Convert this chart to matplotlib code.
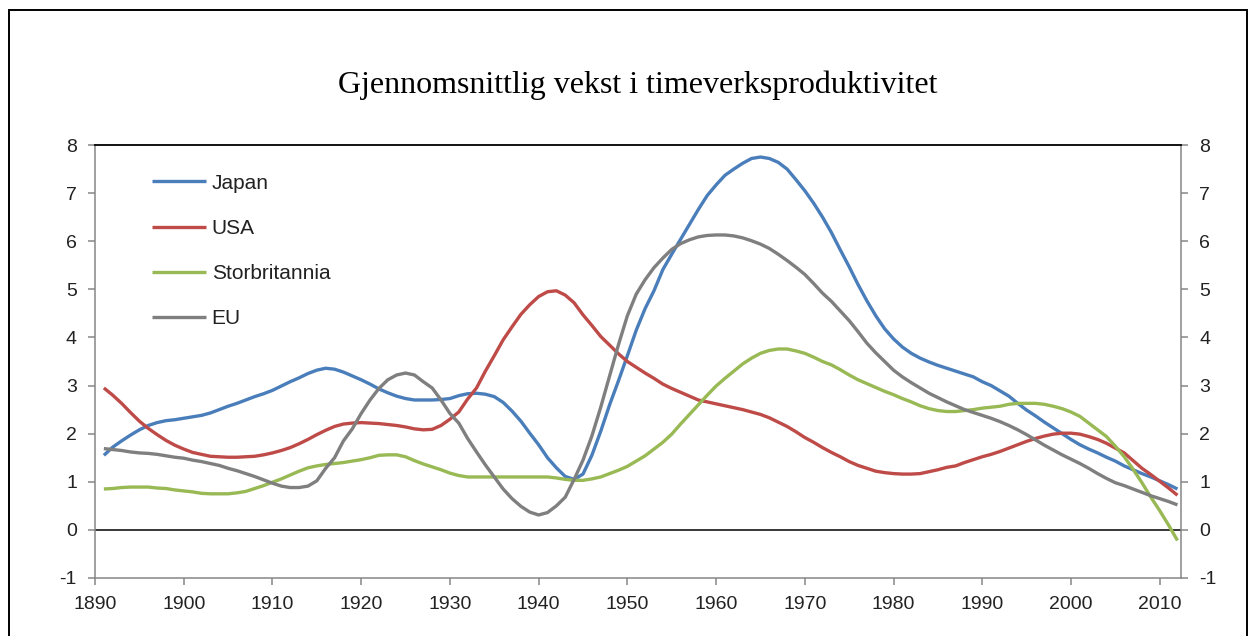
import numpy as np
import matplotlib.pyplot as plt
from matplotlib.patches import Rectangle

# år (årlige observasjoner, glattet)
years = list(range(1891, 2013))

japan = [
    1.55, 1.72, 1.85, 1.97, 2.08, 2.17, 2.23, 2.27, 2.29, 2.32,   # 1891-1900
    2.35, 2.38, 2.43, 2.50, 2.57, 2.63, 2.70, 2.77, 2.83, 2.90,   # 1901-1910
    2.99, 3.08, 3.16, 3.25, 3.32, 3.36, 3.34, 3.28, 3.20, 3.12,   # 1911-1920
    3.03, 2.93, 2.85, 2.78, 2.73, 2.70, 2.70, 2.70, 2.71, 2.73,   # 1921-1930
    2.79, 2.83, 2.84, 2.82, 2.77, 2.65, 2.47, 2.26, 2.01, 1.77,   # 1931-1940
    1.50, 1.29, 1.11, 1.05, 1.16, 1.55, 2.05, 2.60, 3.10, 3.62,   # 1941-1950
    4.15, 4.60, 4.97, 5.41, 5.73, 6.04, 6.35, 6.66, 6.95, 7.17,   # 1951-1960
    7.37, 7.50, 7.62, 7.72, 7.75, 7.72, 7.64, 7.50, 7.28, 7.05,   # 1961-1970
    6.79, 6.50, 6.18, 5.82, 5.47, 5.10, 4.76, 4.45, 4.18, 3.97,   # 1971-1980
    3.80, 3.67, 3.57, 3.49, 3.42, 3.36, 3.30, 3.24, 3.18, 3.08,   # 1981-1990
    3.00, 2.89, 2.78, 2.63, 2.49, 2.37, 2.24, 2.12, 2.00, 1.88,   # 1991-2000
    1.77, 1.68, 1.60, 1.51, 1.43, 1.33, 1.25, 1.17, 1.10, 1.02,   # 2001-2010
    0.94, 0.85,                                                   # 2011-2012
]

usa = [
    2.95, 2.80, 2.63, 2.44, 2.26, 2.11, 1.98, 1.86, 1.76, 1.68,
    1.61, 1.57, 1.53, 1.52, 1.51, 1.51, 1.52, 1.53, 1.56, 1.60,
    1.65, 1.71, 1.79, 1.88, 1.98, 2.07, 2.15, 2.20, 2.22, 2.23,
    2.22, 2.21, 2.19, 2.17, 2.14, 2.10, 2.08, 2.09, 2.17, 2.30,
    2.45, 2.72, 2.95, 3.30, 3.62, 3.95, 4.22, 4.48, 4.68, 4.85,
    4.95, 4.97, 4.88, 4.72, 4.47, 4.25, 4.02, 3.84, 3.66, 3.50,
    3.38, 3.26, 3.15, 3.03, 2.94, 2.86, 2.78, 2.70, 2.66, 2.62,
    2.58, 2.54, 2.50, 2.45, 2.40, 2.33, 2.24, 2.15, 2.04, 1.92,
    1.82, 1.71, 1.61, 1.52, 1.42, 1.34, 1.28, 1.22, 1.19, 1.17,
    1.16, 1.16, 1.17, 1.21, 1.25, 1.30, 1.33, 1.40, 1.46, 1.52,
    1.57, 1.63, 1.70, 1.77, 1.84, 1.90, 1.95, 1.99, 2.01, 2.01,
    1.99, 1.94, 1.88, 1.80, 1.70, 1.60, 1.44, 1.28, 1.15, 1.01,
    0.87, 0.72,
]

storbritannia = [
    0.85, 0.86, 0.88, 0.89, 0.89, 0.89, 0.87, 0.86, 0.83, 0.81,
    0.79, 0.76, 0.75, 0.75, 0.75, 0.77, 0.80, 0.86, 0.92, 0.99,
    1.06, 1.14, 1.22, 1.29, 1.33, 1.36, 1.38, 1.40, 1.43, 1.46,
    1.50, 1.55, 1.56, 1.56, 1.52, 1.44, 1.37, 1.31, 1.25, 1.18,
    1.13, 1.10, 1.10, 1.10, 1.10, 1.10, 1.10, 1.10, 1.10, 1.10,
    1.10, 1.08, 1.05, 1.03, 1.03, 1.06, 1.10, 1.17, 1.24, 1.32,
    1.43, 1.54, 1.68, 1.82, 1.99, 2.20, 2.40, 2.60, 2.80, 2.99,
    3.15, 3.30, 3.45, 3.57, 3.67, 3.73, 3.76, 3.76, 3.72, 3.67,
    3.59, 3.50, 3.43, 3.33, 3.22, 3.12, 3.04, 2.96, 2.88, 2.81,
    2.73, 2.66, 2.58, 2.52, 2.48, 2.46, 2.46, 2.48, 2.50, 2.53,
    2.55, 2.57, 2.61, 2.63, 2.63, 2.63, 2.61, 2.57, 2.52, 2.45,
    2.36, 2.22, 2.08, 1.94, 1.74, 1.52, 1.26, 0.98, 0.68, 0.40,
    0.10, -0.22,
]

eu = [
    1.69, 1.67, 1.65, 1.62, 1.60, 1.59, 1.57, 1.54, 1.51, 1.49,
    1.45, 1.42, 1.38, 1.34, 1.28, 1.23, 1.17, 1.11, 1.04, 0.97,
    0.91, 0.88, 0.88, 0.91, 1.02, 1.28, 1.50, 1.85, 2.10, 2.42,
    2.70, 2.94, 3.12, 3.22, 3.26, 3.22, 3.08, 2.95, 2.70, 2.42,
    2.22, 1.90, 1.62, 1.35, 1.10, 0.85, 0.65, 0.49, 0.37, 0.31,
    0.36, 0.50, 0.68, 1.05, 1.45, 1.95, 2.55, 3.20, 3.85, 4.45,
    4.90, 5.20, 5.45, 5.65, 5.83, 5.95, 6.03, 6.09, 6.12, 6.13,
    6.13, 6.11, 6.07, 6.01, 5.94, 5.85, 5.73, 5.60, 5.46, 5.31,
    5.12, 4.92, 4.75, 4.55, 4.35, 4.12, 3.88, 3.68, 3.50, 3.32,
    3.18, 3.06, 2.95, 2.84, 2.75, 2.66, 2.58, 2.50, 2.44, 2.38,
    2.32, 2.25, 2.17, 2.08, 1.98, 1.87, 1.76, 1.66, 1.56, 1.47,
    1.38, 1.28, 1.17, 1.07, 0.98, 0.92, 0.85, 0.78, 0.71, 0.65,
    0.59, 0.52,
]

labels = ['Japan', 'USA', 'Storbritannia', 'EU']
colors = ['#4a7ebb', '#be4b48', '#98b954', '#7f7f7f']
title = 'Gjennomsnittlig vekst i timeverksproduktivitet'

plt.rcParams['font.family'] = ['Liberation Sans', 'DejaVu Sans']
plt.rcParams['axes.unicode_minus'] = False

fig = plt.figure(figsize=(12.5, 6.36), dpi=100)
ax = fig.add_axes([0.076, 0.0912, 0.8688, 0.6808])

for serie, lab, col in zip([japan, usa, storbritannia, eu], labels, colors):
    ax.plot(years, serie, color=col, lw=2.4, label=lab, solid_capstyle='butt')

ax.axhline(0, color='black', lw=1.1, zorder=1)

ax.set_xlim(1890, 2012.4)
ax.set_ylim(-1, 8)
ax.set_xticks(range(1890, 2011, 10))
ax.set_yticks(range(-1, 9))

grey = '#868686'
for side in ['left', 'bottom', 'right']:
    ax.spines[side].set_color(grey)
    ax.spines[side].set_linewidth(1.1)
ax.spines['top'].set_color('black')
ax.spines['top'].set_linewidth(1.3)

ax.tick_params(axis='both', which='both', direction='out', length=5, width=1.1,
               color=grey, labelsize=14, labelcolor='#222222')
ax.tick_params(axis='y', right=True, labelright=True, pad=8)
ax.tick_params(axis='x', pad=8)

leg = ax.legend(loc='upper left', bbox_to_anchor=(0.0355, 0.977), frameon=False,
                fontsize=15, handlelength=2.6, handletextpad=0.25,
                labelspacing=1.26)
for t in leg.get_texts():
    t.set_color('#222222')

fig.text(0.51, 0.866, title, ha='center', va='center', fontsize=23,
         family=['Liberation Serif', 'DejaVu Serif'])

# ramme rundt hele figuren
fig.patches.append(Rectangle((9 / 1250, -0.01), 1238 / 1250, 1 - 10 / 636 + 0.01,
                             transform=fig.transFigure, fill=False,
                             edgecolor='black', lw=1.4))

fig.savefig('out.png', dpi=100)
